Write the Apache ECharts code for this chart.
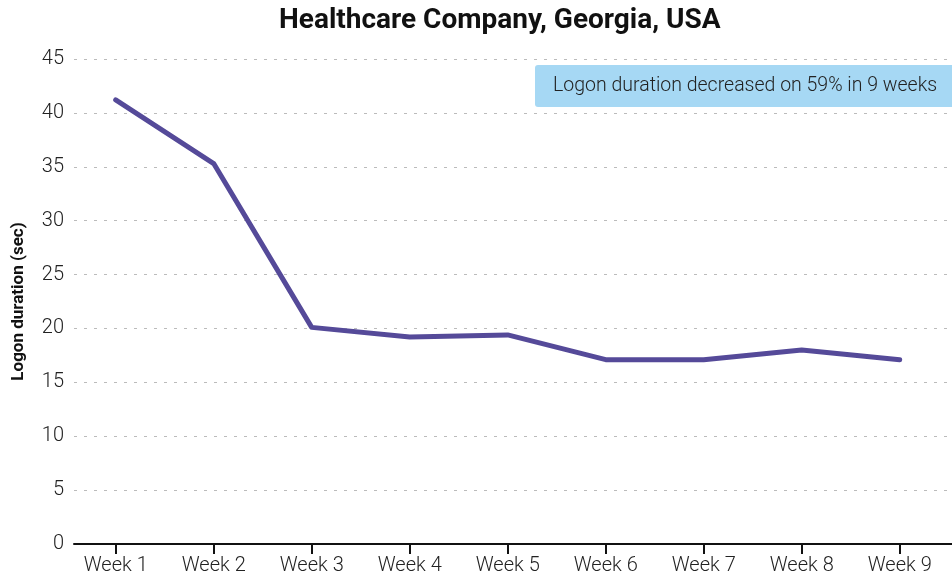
<!DOCTYPE html>
<html>
<head>
<meta charset="utf-8">
<script src="https://cdn.jsdelivr.net/npm/echarts@6/dist/echarts.min.js"></script>
<style>
html,body{margin:0;padding:0;background:#fff;}
#chart{width:952px;height:579px;}
</style>
</head>
<body>
<div id="chart"></div>
<script>
var categories = ['Week 1','Week 2','Week 3','Week 4','Week 5','Week 6','Week 7','Week 8','Week 9'];
var logonDuration = [41.2, 35.3, 20.1, 19.2, 19.4, 17.1, 17.1, 18.0, 17.1];
var titleText = 'Healthcare Company, Georgia, USA';
var yAxisName = 'Logon duration (sec)';
var noteText = 'Logon duration decreased on 59% in 9 weeks';

var FONT = 'Roboto, "Noto Sans", sans-serif';
var chart = echarts.init(document.getElementById('chart'), null, {renderer:'canvas'});
chart.setOption({
  animation: false,
  backgroundColor: '#ffffff',
  title: {
    text: titleText,
    left: 274, top: 2,
    textStyle: {fontFamily: FONT, fontSize: 28, fontWeight: 'bold', color: '#111'}
  },
  grid: [
    {left: 74, right: 0, top: 59, bottom: 35},
    {left: 66.7, right: 3.3, top: 59, bottom: 35}
  ],
  xAxis: [
    {gridIndex: 0, type: 'value', min: 0, max: 1,
     axisLine: {show: true, lineStyle: {color: '#111', width: 2}},
     axisTick: {show: false}, axisLabel: {show: false}, splitLine: {show: false}},
    {gridIndex: 1, type: 'category', data: categories, boundaryGap: true,
     axisLine: {show: false},
     axisTick: {show: true, alignWithLabel: true, length: 10, lineStyle: {color: '#111', width: 2}},
     axisLabel: {margin: 12, fontFamily: FONT, fontWeight: 300, fontSize: 20, color: '#222'}}
  ],
  yAxis: [
    {gridIndex: 0, type: 'value', min: 0, max: 45, interval: 5,
     name: yAxisName, nameLocation: 'middle', nameGap: 47,
     nameTextStyle: {fontFamily: FONT, fontSize: 17, fontWeight: 'bold', color: '#111'},
     axisLine: {show: false}, axisTick: {show: false},
     axisLabel: {margin: 10, fontFamily: FONT, fontWeight: 300, fontSize: 20, color: '#222'},
     splitLine: {show: true, lineStyle: {color: '#bbbbbb', width: 1, type: [3, 7]}}},
    {gridIndex: 1, type: 'value', min: 0, max: 45, show: false}
  ],
  series: [{
    type: 'line', xAxisIndex: 1, yAxisIndex: 1,
    data: logonDuration, showSymbol: false, symbol: 'none',
    lineStyle: {color: '#554a99', width: 5, cap: 'round', join: 'round'}
  }],
  graphic: [{
    type: 'group', left: 535, top: 65,
    children: [
      {type: 'rect', shape: {x: 0, y: 0, width: 430, height: 42, r: 3},
       style: {fill: '#a6d8f4'}},
      {type: 'text', x: 18, y: 21,
       style: {text: noteText, fontFamily: FONT, fontWeight: 300, fontSize: 19.5, fill: '#222', verticalAlign: 'middle'}}
    ]
  }]
});
</script>
</body>
</html>
